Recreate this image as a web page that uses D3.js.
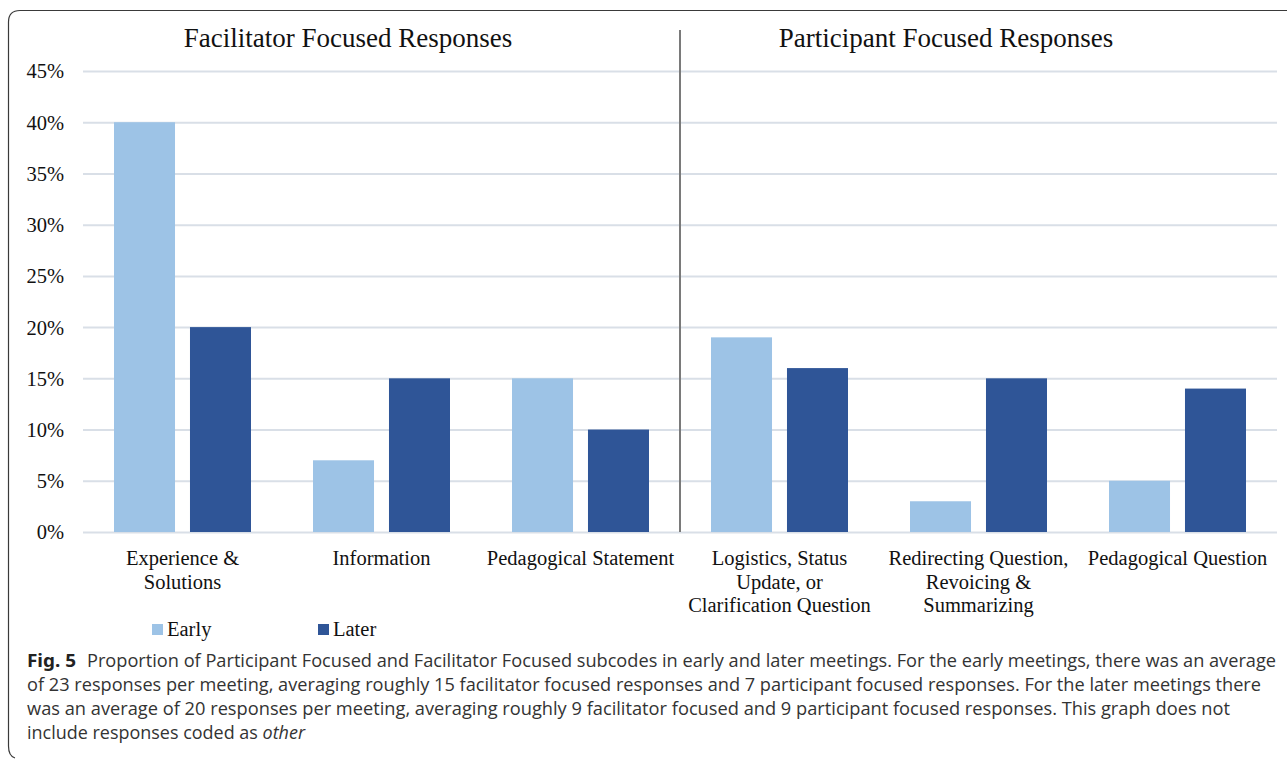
<!DOCTYPE html>
<html>
<head>
<meta charset="utf-8">
<script src="https://cdnjs.cloudflare.com/ajax/libs/d3/7.8.5/d3.min.js"></script>
<style>
  body { margin: 0; background: #fff; }
  svg { display: block; }
  .tick text { font-family: "Liberation Serif", "Times New Roman", serif; fill: #111; }
</style>
</head>
<body>
<div id="chart"></div>
<script>
var width = 1287;
var height = 761;

// data
var categories = ["Experience & Solutions", "Information", "Pedagogical Statement",
                  "Logistics, Status Update, or Clarification Question",
                  "Redirecting Question, Revoicing & Summarizing", "Pedagogical Question"];
var catLines = [["Experience  &", "Solutions"], ["Information"], ["Pedagogical Statement"],
                ["Logistics, Status", "Update, or", "Clarification Question"],
                ["Redirecting Question,", "Revoicing &", "Summarizing"], ["Pedagogical Question"]];
var series = ["Early", "Later"];
var early = [40, 7, 15, 19, 3, 5];
var later = [20, 15, 10, 16, 15, 14];
var yTicks = [0, 5, 10, 15, 20, 25, 30, 35, 40, 45];
var sectionTitles = ["Facilitator Focused Responses", "Participant Focused Responses"];
var captionLines = [
  "Proportion of Participant Focused and Facilitator Focused subcodes in early and later meetings. For the early meetings, there was an average",
  "of 23 responses per meeting, averaging roughly 15 facilitator focused responses and 7 participant focused responses. For the later meetings there",
  "was an average of 20 responses per meeting, averaging roughly 9 facilitator focused and 9 participant focused responses. This graph does not"
];

var colors = {"Early": "#9DC3E6", "Later": "#2F5597"};

var rows = categories.map(function(c, i) {
  return {cat: c, lines: catLines[i], Early: early[i], Later: later[i]};
});

var svg = d3.select("#chart").append("svg")
  .attr("width", width)
  .attr("height", height);

// frame
svg.append("path")
  .attr("d", "M1287,10.5 H20 Q8.5,10.5 8.5,22 V746 Q8.5,756 15,758")
  .attr("fill", "none")
  .attr("stroke", "#3a3a3a")
  .attr("stroke-width", 1.2);

var x0 = d3.scaleBand().domain(categories).range([83, 1277]).padding(0);
var x1 = d3.scaleBand().domain(series).range([31, 168]).paddingInner(0.197).paddingOuter(0);
var y = d3.scaleLinear().domain([0, 45]).range([532, 71]);

// gridlines + y labels
var yAxis = d3.axisLeft(y)
  .tickValues(yTicks)
  .tickSize(-(1277 - 83))
  .tickPadding(19)
  .tickFormat(function(d) { return d + "%"; });

var yG = svg.append("g")
  .attr("transform", "translate(83,0)")
  .call(yAxis);
yG.select(".domain").remove();
yG.selectAll(".tick line").attr("stroke", "#D9DFE7").attr("stroke-width", 2);
yG.selectAll(".tick text").attr("font-size", "20.5px").attr("dy", "0.34em");

// bars
var groups = svg.append("g").selectAll("g")
  .data(rows)
  .enter().append("g")
  .attr("transform", function(d) { return "translate(" + x0(d.cat) + ",0)"; });

groups.selectAll("rect")
  .data(function(d) { return series.map(function(s) { return {key: s, value: d[s]}; }); })
  .enter().append("rect")
  .attr("x", function(d) { return x1(d.key); })
  .attr("width", x1.bandwidth())
  .attr("y", function(d) { return y(d.value); })
  .attr("height", function(d) { return y(0) - y(d.value); })
  .attr("fill", function(d) { return colors[d.key]; });

// x axis labels
var xAxis = d3.axisBottom(x0).tickSize(0).tickFormat("");
var xG = svg.append("g")
  .attr("transform", "translate(0," + y(0) + ")")
  .call(xAxis);
xG.select(".domain").remove();
xG.selectAll(".tick").each(function(d, i) {
  var t = d3.select(this).append("text")
    .attr("text-anchor", "middle")
    .attr("font-size", "20.5px")
    .attr("fill", "#111");
  catLines[i].forEach(function(line, j) {
    t.append("tspan").attr("x", 0).attr("y", 33 + j * 23.5).text(line);
  });
});

// divider between the two groups
var divX = x0(categories[3]);
svg.append("line")
  .attr("x1", divX).attr("x2", divX)
  .attr("y1", 30).attr("y2", y(0))
  .attr("stroke", "#7a7a7a")
  .attr("stroke-width", 2);

// section titles
svg.selectAll(".section")
  .data(sectionTitles)
  .enter().append("text")
  .attr("class", "section")
  .attr("x", function(d, i) { return i == 0 ? 348 : 946; })
  .attr("y", 47)
  .attr("text-anchor", "middle")
  .attr("font-family", "Liberation Serif, Times New Roman, serif")
  .attr("font-size", "27px")
  .attr("fill", "#111")
  .text(function(d) { return d; });

// legend
var legend = svg.append("g").selectAll("g")
  .data(series)
  .enter().append("g")
  .attr("transform", function(d, i) { return "translate(" + (i == 0 ? 152 : 318) + ",624)"; });
legend.append("rect")
  .attr("width", 11).attr("height", 11)
  .attr("fill", function(d) { return colors[d]; });
legend.append("text")
  .attr("x", 15).attr("y", 12)
  .attr("font-family", "Liberation Serif, Times New Roman, serif")
  .attr("font-size", "20.5px")
  .attr("fill", "#111")
  .text(function(d) { return d; });

// caption
var cap = svg.append("g")
  .attr("font-family", "Open Sans, Noto Sans, sans-serif")
  .attr("font-size", "17.5px")
  .attr("fill", "#333");
cap.append("text")
  .attr("x", 27).attr("y", 667)
  .attr("font-family", "Noto Sans, DejaVu Sans, sans-serif")
  .attr("font-weight", "bold")
  .attr("font-size", "18.5px")
  .attr("fill", "#222")
  .attr("textLength", 49)
  .attr("lengthAdjust", "spacingAndGlyphs")
  .text("Fig. 5");
var capEnds = [[87, 1276], [27, 1261], [27, 1230]];
cap.selectAll(".cl")
  .data(captionLines)
  .enter().append("text")
  .attr("class", "cl")
  .attr("x", function(d, i) { return capEnds[i][0]; })
  .attr("y", function(d, i) { return 667 + i * 24; })
  .attr("textLength", function(d, i) { return capEnds[i][1] - capEnds[i][0]; })
  .attr("lengthAdjust", "spacingAndGlyphs")
  .text(function(d) { return d; });
var last = cap.append("text")
  .attr("x", 27).attr("y", 667 + 3 * 24)
  .attr("textLength", 278)
  .attr("lengthAdjust", "spacingAndGlyphs");
last.append("tspan").text("include responses coded as ");
last.append("tspan").attr("font-style", "italic").text("other");
</script>
</body>
</html>
